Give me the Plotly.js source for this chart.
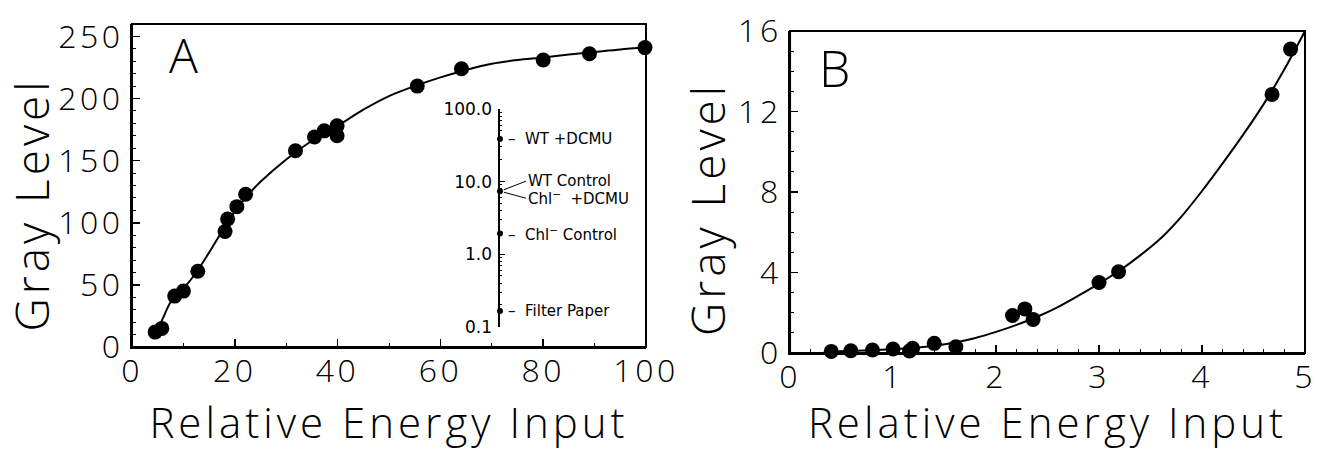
<!DOCTYPE html>
<html>
<head>
<meta charset="utf-8">
<script src="https://cdn.plot.ly/plotly-3.0.1.min.js"></script>
<style>
html,body{margin:0;padding:0;background:#fff;}
#chart{width:1317px;height:450px;}
g.xtick text, g.ytick text, g.x2tick text, g.y2tick text {letter-spacing:3.5px;}
text.xtitle, text.x2title {letter-spacing:4px;}
g.annotation[data-index="2"] text, g.annotation[data-index="3"] text {letter-spacing:4px;}
</style>
</head>
<body>
<div id="chart"></div>
<script>
// Panel A: measured points
const aX = [4.5, 5.8, 8.3, 10.0, 12.8, 18.1, 18.6, 20.4, 22.1, 31.8, 35.5, 37.4, 39.9, 39.9, 55.5, 64.1, 80.0, 89.0, 99.8];
const aY = [12, 15, 41, 45, 61, 93, 103, 113, 123, 158, 169, 174, 178, 170, 210, 224, 231, 236, 241];
// Panel A: fitted curve
const aFitX = [5, 6, 7.5, 10, 12.5, 15, 17.5, 20, 22.5, 25, 30, 35, 40, 45, 50, 55, 60, 65, 70, 75, 80, 85, 90, 95, 100];
const aFitY = [14, 23, 36, 47, 60, 76, 93, 109, 122, 133, 151, 166, 178, 191, 202, 210, 217, 223, 228, 231, 233, 235.5, 237.5, 239.5, 241];

// Panel B: measured points
const bX = [0.40, 0.59, 0.80, 1.00, 1.16, 1.19, 1.40, 1.61, 2.16, 2.28, 2.36, 3.00, 3.19, 4.68, 4.86];
const bY = [0.08, 0.11, 0.15, 0.20, 0.10, 0.23, 0.48, 0.31, 1.86, 2.19, 1.67, 3.50, 4.04, 12.85, 15.1];
// Panel B: fitted curve
const bFitX = [0.4, 0.8, 1.0, 1.2, 1.4, 1.6, 1.8, 2.0, 2.2, 2.4, 2.6, 2.8, 3.0, 3.2, 3.4, 3.6, 3.8, 4.0, 4.2, 4.4, 4.6, 4.8, 5.0];
const bFitY = [0.08, 0.14, 0.19, 0.26, 0.36, 0.52, 0.75, 1.05, 1.40, 1.80, 2.28, 2.85, 3.45, 4.10, 4.85, 5.70, 6.78, 8.05, 9.42, 10.85, 12.38, 14.1, 16.0];

// Inset (log scale)
const insetValues = [38.5, 7.37, 1.92, 0.164];
const insetTickVals = [0.1, 1, 10, 100];
const insetTickText = ['0.1', '1.0', '10.0', '100.0'];
const insetLabelsPlain = ['WT +DCMU', null, 'Chl<sup>−</sup> Control', 'Filter Paper'];
const insetPairLabels = ['WT Control', 'Chl<sup>−</sup>\u00a0\u00a0+DCMU'];

const MAINFONT = 'Open Sans';
const INSETFONT = 'DejaVu Sans';
const black = '#000';

const traces = [
  {x: aFitX, y: aFitY, xaxis: 'x', yaxis: 'y', mode: 'lines', line: {color: black, width: 2, shape: 'spline', smoothing: 0.8}, hoverinfo: 'skip'},
  {x: aX, y: aY, xaxis: 'x', yaxis: 'y', mode: 'markers', marker: {color: black, size: 15}, cliponaxis: false},
  {x: bFitX, y: bFitY, xaxis: 'x2', yaxis: 'y2', mode: 'lines', line: {color: black, width: 2, shape: 'spline', smoothing: 0.8}, hoverinfo: 'skip'},
  {x: bX, y: bY, xaxis: 'x2', yaxis: 'y2', mode: 'markers', marker: {color: black, size: 15}, cliponaxis: false},
  {x: insetValues.map(() => 0), y: insetValues, xaxis: 'x3', yaxis: 'y3', mode: 'markers', marker: {color: black, size: 6}, cliponaxis: false}
];

const tickFont = {family: MAINFONT, size: 32, color: black, weight: 300};
function mainAxis(extra) {
  return Object.assign({
    showline: true, linecolor: black, linewidth: 2,
    ticks: 'inside', ticklen: 8, tickwidth: 1.5, tickcolor: black,
    showgrid: false, zeroline: false, automargin: false,
    tickfont: tickFont
  }, extra);
}
// tick-only companion axes for the top and right edges of each panel
function mirrorAxis(extra) {
  return Object.assign({
    showline: false, ticks: 'inside', ticklen: 8, tickwidth: 1.5, tickcolor: black,
    showticklabels: false, showgrid: false, zeroline: false, automargin: false
  }, extra);
}
const minorTicks = d => ({dtick: d, ticklen: 4, tickwidth: 1, tickcolor: black, ticks: 'inside'});

const letterFont = {family: MAINFONT, size: 48, color: black, weight: 300};
const yTitleFont = {family: MAINFONT, size: 46, color: black, weight: 300};
const xTitleFont = {family: MAINFONT, size: 42, color: black, weight: 300};

const annotations = [
  {xref: 'x domain', yref: 'y domain', x: 0.1, y: 0.905, xanchor: 'center', yanchor: 'middle', text: 'A', showarrow: false, font: letterFont},
  {xref: 'x2 domain', yref: 'y2 domain', x: 0.0854, y: 0.885, xanchor: 'center', yanchor: 'middle', text: 'B', showarrow: false,
   font: Object.assign({}, letterFont, {size: 50})},
  // y-axis titles
  {xref: 'paper', yref: 'paper', x: -0.0861, y: 0.4514, xanchor: 'center', yanchor: 'middle', textangle: -90,
   text: 'Gray Level', showarrow: false, font: yTitleFont},
  {xref: 'paper', yref: 'paper', x: 0.4902, y: 0.4377, xanchor: 'center', yanchor: 'middle', textangle: -90,
   text: 'Gray Level', showarrow: false, font: yTitleFont}
];
const insetFont = {family: INSETFONT, size: 15, color: black};
insetValues.forEach((v, i) => {
  if (insetLabelsPlain[i]) {
    annotations.push({xref: 'x3', yref: 'y3', x: 0, y: Math.log10(v), text: '–\u00a0\u00a0' + insetLabelsPlain[i],
      showarrow: false, xanchor: 'left', yanchor: 'middle', xshift: 6, font: insetFont});
  }
});
annotations.push({xref: 'x3', yref: 'y3', x: 0, y: Math.log10(insetValues[1]), text: insetPairLabels[0],
  showarrow: true, arrowhead: 0, arrowwidth: 1, arrowcolor: black, ax: 26, ay: -10, standoff: 4,
  xanchor: 'left', yanchor: 'middle', font: insetFont});
annotations.push({xref: 'x3', yref: 'y3', x: 0, y: Math.log10(insetValues[1]), text: insetPairLabels[1],
  showarrow: true, arrowhead: 0, arrowwidth: 1, arrowcolor: black, ax: 26, ay: 7, standoff: 4,
  xanchor: 'left', yanchor: 'middle', font: insetFont});

const frame = (xr, yr) => ({type: 'rect', xref: xr + ' domain', yref: yr + ' domain', x0: 0, x1: 1, y0: 0, y1: 1,
  line: {color: black, width: 2}, fillcolor: 'rgba(0,0,0,0)', layer: 'above'});

const layout = {
  width: 1317, height: 450,
  margin: {l: 132, r: 12, t: 24, b: 97, pad: 0},
  paper_bgcolor: '#fff', plot_bgcolor: 'rgba(0,0,0,0)',
  showlegend: false,
  font: {family: MAINFONT, color: black},
  xaxis: mainAxis({domain: [0, 0.4382], range: [0, 100], tick0: 0, dtick: 20, anchor: 'y',
    minor: minorTicks(10), ticklabelstandoff: -5,
    title: {text: 'Relative Energy Input', font: xTitleFont, standoff: 39}}),
  yaxis: mainAxis({domain: [0.0182, 1], range: [0, 260], tick0: 0, dtick: 50, anchor: 'x',
    minor: minorTicks(10), ticklabelstandoff: 0}),
  xaxis2: mainAxis({domain: [0.561, 1], range: [0, 5], tick0: 0, dtick: 1, anchor: 'y2',
    minor: minorTicks(0.2), ticklabelstandoff: -5,
    title: {text: 'Relative Energy Input', font: xTitleFont, standoff: 39}}),
  yaxis2: mainAxis({domain: [0, 0.9787], range: [0, 16], tick0: 0, dtick: 4, anchor: 'x2',
    minor: minorTicks(1), ticklabelstandoff: 0}),
  xaxis4: mirrorAxis({overlaying: 'x', side: 'top', anchor: 'y', range: [0, 100], tick0: 0, dtick: 20, minor: minorTicks(10)}),
  yaxis4: mirrorAxis({overlaying: 'y', side: 'right', anchor: 'x', range: [0, 260], tick0: 0, dtick: 50, minor: minorTicks(10)}),
  xaxis5: mirrorAxis({overlaying: 'x2', side: 'top', anchor: 'y2', range: [0, 5], tick0: 0, dtick: 1, minor: minorTicks(0.2)}),
  yaxis5: mirrorAxis({overlaying: 'y2', side: 'right', anchor: 'x2', range: [0, 16], tick0: 0, dtick: 4, minor: minorTicks(1)}),
  xaxis3: {domain: [0.3137, 0.38], range: [0, 1], visible: false, anchor: 'y3', fixedrange: true},
  yaxis3: {domain: [0.0799, 0.7416], type: 'log', range: [-1, 2], anchor: 'x3',
    tickvals: insetTickVals, ticktext: insetTickText,
    showline: true, linecolor: black, linewidth: 1.5, ticks: 'inside', ticklen: 5, tickwidth: 1, tickcolor: black,
    minor: {ticks: 'inside', ticklen: 2, tickwidth: 1, tickcolor: black, dtick: 'D1'},
    showgrid: false, zeroline: false, automargin: false,
    tickfont: {family: INSETFONT, size: 17, color: black}, ticklabelstandoff: 3},
  shapes: [frame('x', 'y'), frame('x2', 'y2')],
  annotations: annotations
};

Plotly.newPlot('chart', traces, layout, {staticPlot: true, displayModeBar: false});
</script>
</body>
</html>
